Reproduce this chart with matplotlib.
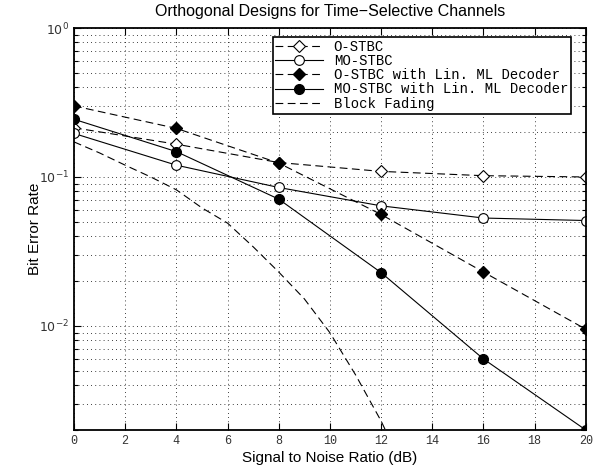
import matplotlib
matplotlib.use('Agg')
import matplotlib.pyplot as plt
from matplotlib.ticker import LogLocator, NullFormatter, FixedLocator

plt.rcParams['mathtext.fontset'] = 'custom'
plt.rcParams['mathtext.rm'] = 'Liberation Sans'
plt.rcParams['mathtext.it'] = 'Liberation Sans:italic'

snr = [0, 4, 8, 12, 16, 20]
o_stbc = [0.214, 0.166, 0.125, 0.109, 0.102, 0.100]
mo_stbc = [0.196, 0.120, 0.085, 0.064, 0.053, 0.051]
o_stbc_lin = [0.30, 0.212, 0.124, 0.056, 0.023, 0.0095]
mo_stbc_lin = [0.244, 0.148, 0.071, 0.0228, 0.006, 0.002]

snr_bf = [0, 1, 2, 3, 4, 5, 6, 7, 8, 9, 10, 11, 12, 13]
block_fading = [0.172, 0.145, 0.120, 0.100, 0.082, 0.062, 0.049, 0.034,
                0.023, 0.0152, 0.009, 0.0047, 0.0023, 0.0010]

labels = ["O-STBC", "MO-STBC", "O-STBC with Lin. ML Decoder",
          "MO-STBC with Lin. ML Decoder", "Block Fading"]

fig = plt.figure(figsize=(5.99, 4.75), dpi=100)
ax = fig.add_axes([0.1235, 0.0947, 0.8545, 0.8463])

dash = (0, (7, 4))
ms_c = 7
ms_d = 6
ax.semilogy(snr, o_stbc, linestyle=dash, color='k', lw=0.8, marker='D',
            ms=ms_d, mfc='white', mec='k', mew=0.8, label=labels[0])
ax.semilogy(snr, mo_stbc, linestyle='-', color='k', lw=0.8, marker='o',
            ms=ms_c, mfc='white', mec='k', mew=0.8, label=labels[1])
ax.semilogy(snr, o_stbc_lin, linestyle=dash, color='k', lw=0.8, marker='D',
            ms=ms_d, mfc='k', mec='k', label=labels[2])
ax.semilogy(snr, mo_stbc_lin, linestyle='-', color='k', lw=0.8, marker='o',
            ms=ms_c, mfc='k', mec='k', label=labels[3])
ax.semilogy(snr_bf, block_fading, linestyle=dash, color='k', lw=0.8,
            label=labels[4])

ax.set_xlim(0, 20)
ax.set_ylim(2e-3, 1)
ax.xaxis.set_major_locator(FixedLocator(range(0, 21, 2)))
ax.yaxis.set_major_locator(LogLocator(base=10, numticks=10))
ax.yaxis.set_minor_locator(LogLocator(base=10, subs=range(2, 10), numticks=20))
ax.yaxis.set_minor_formatter(NullFormatter())

ax.grid(True, which='major', linestyle=(0, (1, 4)), color='k', lw=0.6)
ax.grid(True, which='minor', axis='y', linestyle=(0, (1, 4)), color='k', lw=0.6)

ax.tick_params(which='both', direction='in', top=True, right=True, width=0.8)
ax.tick_params(which='major', length=5)
ax.tick_params(which='minor', length=3)
for lab in ax.get_xticklabels():
    lab.set_fontfamily('Liberation Mono')
    lab.set_fontsize(8.5)
    lab.set_color('#333333')
for lab in ax.get_yticklabels():
    lab.set_fontsize(9)
    lab.set_color('#333333')
for sp in ax.spines.values():
    sp.set_linewidth(1.3)

ax.set_xlabel("Signal to Noise Ratio (dB)", fontfamily='Liberation Sans',
              fontsize=11, labelpad=3)
ax.set_ylabel("Bit Error Rate", fontfamily='Liberation Sans', fontsize=11,
              labelpad=-2)
ax.set_title("Orthogonal Designs for Time\u2212Selective Channels",
             fontfamily='Liberation Sans', fontsize=11.5, pad=9)

leg = ax.legend(loc='upper left', bbox_to_anchor=(0.388, 0.978),
                prop={'family': 'Liberation Mono', 'size': 10},
                fancybox=False, framealpha=1, edgecolor='k',
                handlelength=3.4, borderpad=0.2, labelspacing=0.02,
                handletextpad=0.8, borderaxespad=0.0)
leg.get_frame().set_linewidth(1.2)

plt.savefig('out.png', dpi=100)
plt.close()
